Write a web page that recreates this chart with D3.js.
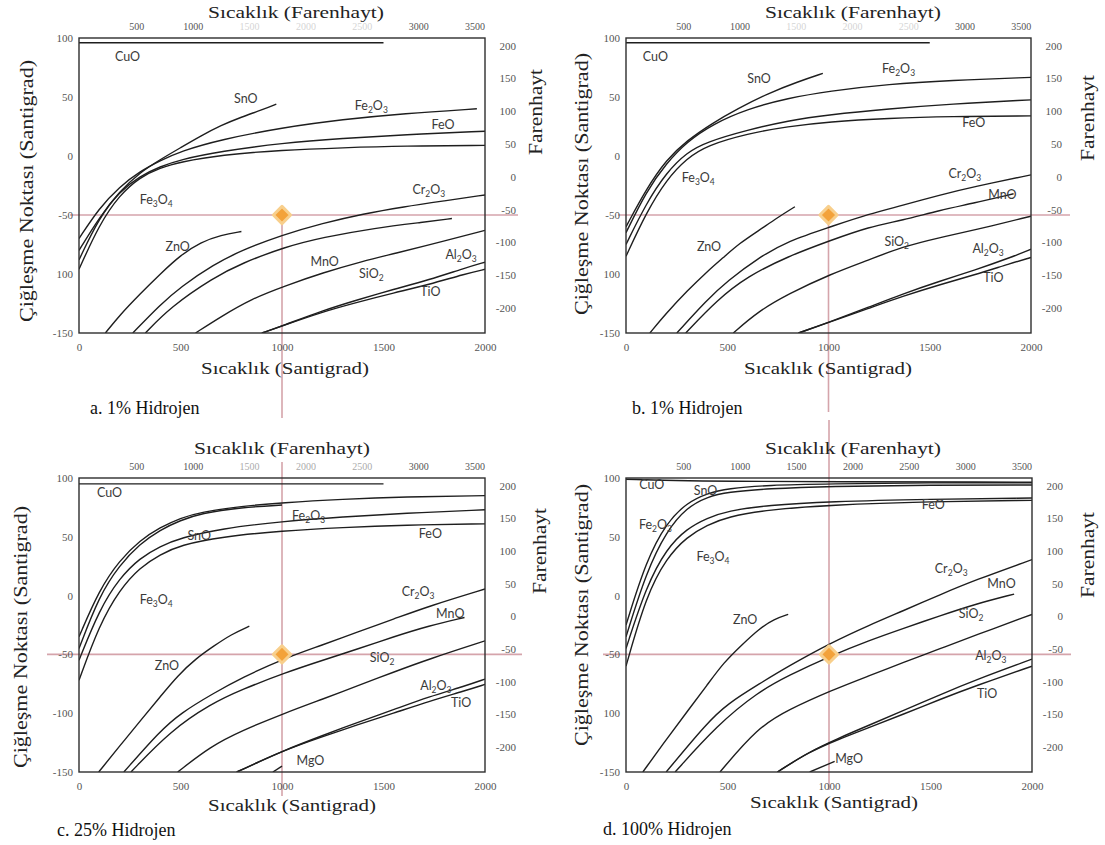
<!DOCTYPE html>
<html>
<head>
<meta charset="utf-8">
<script src="https://cdn.jsdelivr.net/npm/d3@7"></script>
<style>
  body { margin: 0; background: #fff; }
  svg { display: block; }
</style>
</head>
<body>
<svg id="chart" width="1105" height="845"></svg>
<script>
// ---- axis values ----
const celsiusTicks = [0, 500, 1000, 1500, 2000];
const dewTicks = [100, 50, 0, -50, -100, -150];
const fahrenheitTopTicks = [500, 1000, 1500, 2000, 2500, 3000, 3500];
const fahrenheitRightTicks = [200, 150, 100, 50, 0, -50, -100, -150, -200];
const dewTickTextA = ["100", "50", "0", "-50", "100", "-150"];
const dewTickTextB = ["100", "50", "0", "-50", "100", "-150"];
const dewTickTextC = ["100", "50", "0", "-50", "-100", "-150"];
const dewTickTextD = ["100", "50", "0", "-50", "100", "-150"];
const captions = ["a. 1% Hidrojen", "b. 1% Hidrojen", "c. 25% Hidrojen", "d. 100% Hidrojen"];
const markerPoint = [1000, -50];

// ---- equilibrium curves: [temperature °C, dew point °C] ----
const curvesA = [
  { name: "CuO",   pts: [[0, 96], [1500, 96]] },
  { name: "SnO",   pts: [[0, -80], [100, -52], [200, -30], [300, -14], [400, -3], [500, 7], [600, 17], [700, 26], [800, 33], [900, 39], [972, 44]] },
  { name: "Fe2O3", pts: [[0, -70], [100, -44], [200, -26], [300, -13], [400, -4], [500, 4], [700, 14], [1000, 24], [1300, 31], [1600, 36], [1960, 40]] },
  { name: "FeO",   pts: [[0, -88], [100, -52], [200, -30], [300, -17], [400, -9], [500, -3], [700, 4], [1000, 11], [1300, 15], [1600, 18], [2000, 21]] },
  { name: "Fe3O4", pts: [[0, -96], [100, -58], [200, -33], [300, -18], [400, -10], [500, -5], [700, 1], [1000, 5], [1300, 7], [1600, 8.5], [2000, 9]] },
  { name: "ZnO",   pts: [[130, -150], [200, -135], [300, -117], [400, -100], [500, -84], [600, -73], [700, -67], [800, -64]] },
  { name: "Cr2O3", pts: [[265, -150], [400, -126], [500, -111], [663, -92], [800, -80], [1000, -67], [1200, -57], [1400, -49], [1600, -43], [1800, -38], [2000, -33]] },
  { name: "MnO",   pts: [[327, -150], [450, -128], [663, -103], [800, -91], [1016, -77], [1200, -69], [1458, -61], [1700, -56], [1837, -53]] },
  { name: "SiO2",  pts: [[574, -150], [700, -136], [850, -121], [1016, -110], [1200, -99], [1400, -89], [1546, -83], [1800, -72], [2000, -63]] },
  { name: "Al2O3", pts: [[901, -150], [1000, -144], [1200, -131], [1369, -122], [1550, -113], [1723, -105], [1900, -95], [2000, -90]] },
  { name: "TiO",   pts: [[901, -150], [1000, -144], [1200, -132], [1369, -124], [1550, -116], [1723, -109], [1900, -100], [2000, -96]] }
];
const curvesB = [
  { name: "CuO",   pts: [[0, 96], [1500, 96]] },
  { name: "SnO",   pts: [[0, -60], [100, -28], [200, -3], [300, 13], [428, 28], [550, 40], [700, 53], [850, 63], [972, 70]] },
  { name: "Fe2O3", pts: [[0, -65], [100, -30], [200, -6], [300, 12], [428, 27], [600, 40], [800, 49], [1000, 55], [1300, 61], [1600, 64], [2000, 66.6]] },
  { name: "Fe3O4", pts: [[0, -75], [100, -40], [200, -14], [300, 3], [400, 12], [600, 22], [800, 30], [1000, 35], [1300, 40], [1600, 44], [2000, 47.6]] },
  { name: "FeO",   pts: [[0, -85], [100, -48], [200, -20], [300, -2], [400, 9], [600, 19], [800, 25], [1000, 29], [1300, 32], [1600, 33.5], [2000, 34]] },
  { name: "ZnO",   pts: [[118, -150], [200, -133], [304, -114], [400, -98], [481, -86], [560, -74], [657, -63], [750, -52], [834, -43]] },
  { name: "Cr2O3", pts: [[251, -150], [400, -122], [500, -106], [657, -86], [800, -72], [1011, -60], [1200, -49], [1364, -42], [1550, -33], [1717, -26], [2000, -16]] },
  { name: "MnO",   pts: [[295, -150], [450, -122], [600, -102], [800, -85], [1011, -71.5], [1200, -60], [1364, -54.5], [1550, -46], [1717, -40], [1914, -32]] },
  { name: "SiO2",  pts: [[530, -150], [650, -132], [800, -117], [1011, -100], [1200, -88], [1364, -77], [1550, -69], [1717, -63], [2000, -51]] },
  { name: "Al2O3", pts: [[852, -150], [1000, -141], [1200, -128], [1364, -117], [1550, -106], [1717, -97], [1900, -86], [2000, -79]] },
  { name: "TiO",   pts: [[852, -150], [1000, -141], [1200, -129], [1364, -119], [1550, -109], [1717, -101], [1900, -91], [2000, -86]] }
];
const curvesC = [
  { name: "CuO",   pts: [[0, 95], [1500, 95]] },
  { name: "Fe2O3", pts: [[0, -35], [100, 5], [200, 30], [300, 47], [400, 58], [500, 66], [600, 71], [800, 76], [1000, 79], [1300, 82], [1600, 84], [2000, 85]] },
  { name: "SnO",   pts: [[0, -45], [100, 0], [200, 26], [300, 44], [400, 56], [500, 64], [600, 70], [800, 75], [1000, 77]] },
  { name: "Fe3O4", pts: [[0, -55], [100, -12], [200, 15], [300, 32], [400, 42], [500, 49], [700, 57], [1000, 63], [1300, 67], [1600, 70], [2000, 73]] },
  { name: "FeO",   pts: [[0, -72], [100, -25], [200, 5], [300, 24], [400, 35], [500, 43], [700, 50], [1000, 55], [1300, 58], [1600, 60], [2000, 61]] },
  { name: "ZnO",   pts: [[97, -150], [200, -128], [309, -105], [400, -86], [486, -68], [580, -53], [663, -43], [750, -33], [839, -26]] },
  { name: "Cr2O3", pts: [[221, -150], [400, -115], [500, -100], [663, -83], [800, -70], [1016, -53], [1200, -42], [1369, -31], [1550, -20], [1723, -9], [2000, 5.6]] },
  { name: "MnO",   pts: [[256, -150], [450, -115], [650, -92], [800, -80], [1016, -65.5], [1200, -55], [1369, -45.6], [1550, -35], [1723, -25.7], [1899, -18.6]] },
  { name: "SiO2",  pts: [[486, -150], [650, -128], [800, -115], [1016, -99.7], [1200, -88], [1369, -77], [1550, -65], [1723, -54], [2000, -38.5]] },
  { name: "Al2O3", pts: [[777, -150], [1016, -131], [1200, -119], [1369, -108], [1550, -97], [1723, -86], [1900, -77], [2000, -71]] },
  { name: "TiO",   pts: [[777, -150], [1016, -131], [1200, -120], [1369, -110], [1550, -100], [1723, -90], [1900, -81], [2000, -75.5]] },
  { name: "MgO",   pts: [[955, -150], [1000, -145]] }
];
const curvesD = [
  { name: "CuO",   pts: [[0, 99], [300, 97], [2000, 96.5]] },
  { name: "SnO",   pts: [[0, -25], [100, 30], [200, 62], [300, 79], [400, 87], [500, 91], [700, 94], [1000, 95], [1500, 96], [2000, 96]] },
  { name: "Fe2O3", pts: [[0, -35], [100, 20], [200, 55], [300, 75], [400, 84], [500, 88], [700, 91], [1000, 93], [1500, 94], [2000, 94]] },
  { name: "Fe3O4", pts: [[0, -45], [100, 8], [200, 40], [300, 57], [400, 66], [500, 72], [700, 77], [1000, 80], [1500, 82], [2000, 83]] },
  { name: "FeO",   pts: [[0, -60], [100, 0], [200, 32], [300, 50], [400, 60], [500, 67], [700, 73], [1000, 77], [1500, 80], [2000, 81]] },
  { name: "ZnO",   pts: [[83, -150], [200, -122], [304, -98], [400, -76], [481, -57], [570, -42], [657, -28], [730, -20], [799, -16]] },
  { name: "Cr2O3", pts: [[198, -150], [400, -108], [500, -92], [657, -75], [800, -60], [1011, -40], [1200, -25], [1364, -13], [1550, 1], [1717, 13], [2000, 30.6]] },
  { name: "MnO",   pts: [[242, -150], [450, -110], [650, -82], [800, -68], [1011, -51], [1200, -38], [1364, -28], [1550, -17], [1717, -7.4], [1912, 1.3]] },
  { name: "SiO2",  pts: [[463, -150], [650, -112], [800, -97], [1011, -80.6], [1200, -68], [1364, -57], [1550, -45], [1717, -34], [2000, -16]] },
  { name: "Al2O3", pts: [[746, -150], [900, -133], [1050, -121], [1200, -110], [1364, -98], [1550, -84], [1717, -72], [2000, -54]] },
  { name: "TiO",   pts: [[746, -150], [900, -133], [1050, -122], [1200, -112], [1364, -101], [1550, -88], [1717, -77], [2000, -60]] },
  { name: "MgO",   pts: [[905, -150], [1028, -141]] }
];

// ---- curve name labels: [name, temperature °C, dew point °C] ----
const labelsA = [["CuO", 239, 84], ["SnO", 822, 48], ["Fe2O3", 1440, 42], ["FeO", 1793, 26], ["Fe3O4", 380, -37],
  ["Cr2O3", 1723, -29], ["ZnO", 486, -77], ["MnO", 1210, -90], ["SiO2", 1440, -100], ["Al2O3", 1882, -84], ["TiO", 1731, -115]];
const labelsB = [["CuO", 145, 84], ["SnO", 657, 65], ["Fe2O3", 1346, 74], ["FeO", 1717, 28], ["Fe3O4", 357, -19],
  ["Cr2O3", 1673, -15], ["MnO", 1859, -33], ["ZnO", 410, -77], ["SiO2", 1337, -73], ["Al2O3", 1788, -79], ["TiO", 1814, -103]];
const labelsC = [["CuO", 150, 87], ["Fe2O3", 1131, 68], ["SnO", 592, 51], ["FeO", 1731, 52], ["Fe3O4", 380, -4],
  ["Cr2O3", 1670, 3], ["MnO", 1829, -16], ["ZnO", 433, -60], ["SiO2", 1493, -53], ["Al2O3", 1758, -77], ["TiO", 1882, -91], ["MgO", 1140, -141]];
const labelsD = [["CuO", 127, 94], ["SnO", 392, 89], ["Fe2O3", 145, 60], ["FeO", 1514, 77], ["Fe3O4", 428, 33],
  ["Cr2O3", 1602, 23], ["MnO", 1850, 10], ["ZnO", 587, -21], ["SiO2", 1700, -16], ["Al2O3", 1797, -51], ["TiO", 1779, -84], ["MgO", 1099, -139]];

// ---- panel layout (pixels) ----
const panels = [
  { id: "a", x: 79, y: 38, w: 406, h: 295, curves: curvesA, labels: labelsA, dewText: dewTickTextA, caption: captions[0],
    topTitle: [296, 12], bottomTitle: [285, 368], leftTitle: [26, 191], rightTitle: [536, 112], capPos: [90, 408],
    hLine: [70, 518], vLine: [null, 418], faintTop: 0.25 },
  { id: "b", x: 626, y: 38, w: 405, h: 295, curves: curvesB, labels: labelsB, dewText: dewTickTextB, caption: captions[1],
    topTitle: [853, 12], bottomTitle: [828, 368], leftTitle: [581, 184], rightTitle: [1088, 118], capPos: [632, 408],
    hLine: [618, 1070], vLine: [null, 412], faintTop: 0.25 },
  { id: "c", x: 79, y: 478, w: 406, h: 294, curves: curvesC, labels: labelsC, dewText: dewTickTextC, caption: captions[2],
    topTitle: [282, 448], bottomTitle: [292, 805], leftTitle: [20, 637], rightTitle: [540, 551], capPos: [57, 830],
    hLine: [47, 522], vLine: [462, 796], faintTop: 0.5 },
  { id: "d", x: 626, y: 478, w: 406, h: 294, curves: curvesD, labels: labelsD, dewText: dewTickTextD, caption: captions[3],
    topTitle: [853, 448], bottomTitle: [834, 802], leftTitle: [581, 615], rightTitle: [1088, 555], capPos: [603, 829],
    hLine: [603, 1071], vLine: [420, 790], faintTop: 1 }
];

const svg = d3.select("#chart");
const serif = "'Liberation Serif', 'Times New Roman', serif";
const labelFont = "Lato, 'Liberation Sans', sans-serif";
const f2c = f => (f - 32) * 5 / 9;

function chemLabel(g, name, x, y) {
  const t = g.append("text").attr("x", x).attr("y", y)
    .attr("text-anchor", "middle").attr("font-family", labelFont)
    .attr("font-size", 12.5).attr("fill", "#3a3a3a");
  let sub = false;
  name.split(/(\d)/).filter(s => s.length).forEach(part => {
    const isDigit = /^\d$/.test(part);
    const ts = t.append("tspan").text(part);
    if (isDigit && !sub) { ts.attr("dy", 3).attr("font-size", 8.5); sub = true; }
    else if (isDigit) { ts.attr("font-size", 8.5); }
    else if (!isDigit && sub) { ts.attr("dy", -3); sub = false; }
  });
}

panels.forEach(p => {
  const g = svg.append("g");
  const x = d3.scaleLinear().domain([0, 2000]).range([p.x, p.x + p.w]);
  const y = d3.scaleLinear().domain([-150, 100]).range([p.y + p.h, p.y]);

  const clipId = "clip-" + p.id;
  svg.append("defs").append("clipPath").attr("id", clipId)
    .append("rect").attr("x", p.x).attr("y", p.y).attr("width", p.w).attr("height", p.h);

  // reference crosshair at the marker temperature / dew point
  const cross = g.append("g").attr("stroke", "#c7868f").attr("stroke-width", 1.6).attr("opacity", 0.75);
  cross.append("line").attr("x1", p.hLine[0]).attr("x2", p.hLine[1])
    .attr("y1", y(markerPoint[1])).attr("y2", y(markerPoint[1]));
  cross.append("line").attr("x1", x(markerPoint[0])).attr("x2", x(markerPoint[0]))
    .attr("y1", p.vLine[0] === null ? y(markerPoint[1]) : p.vLine[0]).attr("y2", p.vLine[1]);

  // curves
  const line = d3.line().x(d => x(d[0])).y(d => y(d[1])).curve(d3.curveBasis);
  g.append("g").attr("clip-path", `url(#${clipId})`)
    .selectAll("path").data(p.curves).join("path")
    .attr("d", d => line(d.pts))
    .attr("fill", "none").attr("stroke", "#1e1e1e").attr("stroke-width", 1.4);

  // frame
  g.append("rect").attr("x", p.x).attr("y", p.y).attr("width", p.w).attr("height", p.h)
    .attr("fill", "none").attr("stroke", "#2e2e2e").attr("stroke-width", 1.4);

  // bottom axis (°C)
  const bottom = g.append("g").attr("transform", `translate(0,${p.y + p.h})`)
    .call(d3.axisBottom(x).tickValues(celsiusTicks).tickSize(0).tickPadding(10).tickFormat(d3.format("d")));
  bottom.select(".domain").remove();
  bottom.selectAll("text").attr("font-family", serif).attr("font-size", 11).attr("fill", "#555");

  // left axis (°C)
  const left = g.append("g").attr("transform", `translate(${p.x},0)`)
    .call(d3.axisLeft(y).tickValues(dewTicks).tickSize(0).tickPadding(6).tickFormat((d, i) => p.dewText[i]));
  left.select(".domain").remove();
  left.selectAll("text").attr("font-family", serif).attr("font-size", 11).attr("fill", "#555");

  // top axis (°F), placed through the same °C scale
  const top = g.append("g").attr("transform", `translate(5,${p.y})`);
  top.selectAll("text").data(fahrenheitTopTicks).join("text")
    .attr("x", d => x(f2c(d))).attr("y", -8)
    .attr("text-anchor", "middle").attr("font-family", serif).attr("font-size", 10)
    .attr("fill", "#555")
    .attr("opacity", d => (d >= 1500 && d <= 2500) ? p.faintTop : 1)
    .text(d => d);

  // right axis (°F)
  const right = g.append("g").attr("transform", `translate(${p.x + p.w + 31},0)`);
  right.selectAll("text").data(fahrenheitRightTicks).join("text")
    .attr("x", 0).attr("y", d => y(f2c(d))).attr("dy", "0.35em")
    .attr("text-anchor", "end").attr("font-family", serif).attr("font-size", 11)
    .attr("fill", "#555").text(d => d);

  // curve labels
  const lg = g.append("g");
  p.labels.forEach(([name, t, dp]) => chemLabel(lg, name, x(t), y(dp) + 4));

  // marker
  const mx = x(markerPoint[0]), my = y(markerPoint[1]);
  const dia = d3.symbol().type(d3.symbolDiamond2).size(190);
  g.append("path").attr("d", dia()).attr("transform", `translate(${mx},${my})`)
    .attr("fill", "#f3a23a").attr("stroke", "#f8cf8c").attr("stroke-width", 3).attr("stroke-linejoin", "round");

  // titles
  g.append("text").attr("x", p.topTitle[0]).attr("y", p.topTitle[1]).attr("dy", "0.35em")
    .attr("text-anchor", "middle").attr("font-family", serif).attr("font-size", 17).attr("fill", "#222")
    .attr("textLength", 176).attr("lengthAdjust", "spacingAndGlyphs")
    .text("Sıcaklık (Farenhayt)");
  g.append("text").attr("x", p.bottomTitle[0]).attr("y", p.bottomTitle[1]).attr("dy", "0.35em")
    .attr("text-anchor", "middle").attr("font-family", serif).attr("font-size", 17).attr("fill", "#222")
    .attr("textLength", 168).attr("lengthAdjust", "spacingAndGlyphs")
    .text("Sıcaklık (Santigrad)");
  g.append("text").attr("transform", `translate(${p.leftTitle[0]},${p.leftTitle[1]}) rotate(-90)`)
    .attr("dy", "0.35em").attr("text-anchor", "middle").attr("font-family", serif)
    .attr("font-size", 19).attr("fill", "#222")
    .attr("textLength", 262).attr("lengthAdjust", "spacingAndGlyphs")
    .text("Çiğleşme Noktası (Santigrad)");
  g.append("text").attr("transform", `translate(${p.rightTitle[0]},${p.rightTitle[1]}) rotate(-90)`)
    .attr("dy", "0.35em").attr("text-anchor", "middle").attr("font-family", serif)
    .attr("font-size", 18).attr("fill", "#222")
    .attr("textLength", 86).attr("lengthAdjust", "spacingAndGlyphs")
    .text("Farenhayt");
  g.append("text").attr("x", p.capPos[0]).attr("y", p.capPos[1]).attr("dy", "0.35em")
    .attr("font-family", serif).attr("font-size", 18).attr("fill", "#111")
    .text(p.caption);
});
</script>
</body>
</html>
